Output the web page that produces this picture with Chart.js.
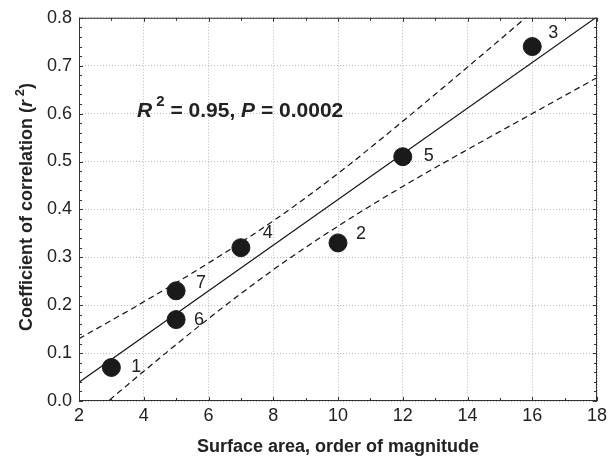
<!DOCTYPE html>
<html>
<head>
<meta charset="utf-8">
<script src="https://cdn.jsdelivr.net/npm/chart.js@4/dist/chart.umd.min.js"></script>
<style>
  html, body { margin: 0; padding: 0; background: #fff; }
  #wrap { width: 613px; height: 459px; }
</style>
</head>
<body>
<div id="wrap"><canvas id="chart"></canvas></div>
<script>
// observed points (surface area, r^2) and their numbers
const surfaceArea = [3, 10, 16, 7, 12, 5, 5];
const correlation = [0.07, 0.33, 0.74, 0.32, 0.51, 0.17, 0.23];
const pointLabels = ["1", "2", "3", "4", "5", "6", "7"];

// regression line, read at both ends of the axis
const fitX = [2, 18];
const fitY = [0.039, 0.802];

// confidence band
const bandX = [2, 4, 6, 8, 10, 12, 14, 16, 18];
const bandUpper = [0.130, 0.207, 0.288, 0.376, 0.475, 0.584, 0.697, 0.812, 0.929];
const bandLower = [-0.052, 0.062, 0.172, 0.274, 0.365, 0.448, 0.525, 0.600, 0.675];

const xTicks = [2, 4, 6, 8, 10, 12, 14, 16, 18];
const yTicks = [0.0, 0.1, 0.2, 0.3, 0.4, 0.5, 0.6, 0.7, 0.8];

const FONT = "'Liberation Sans', Arial, sans-serif";

function pairs(xs, ys) {
    return xs.map((x, i) => ({ x: x, y: ys[i] }));
}

// label offsets next to each point, in pixels
const labelOffsets = [[25, 0], [23, -9], [21, -14], [27, -15], [26, -1], [23, 0], [25, -8]];

const decorPlugin = {
    id: "decor",
    afterDatasetsDraw(chart) {
        const ctx = chart.ctx;
        const a = chart.chartArea;
        const xs = chart.scales.x, ys = chart.scales.y;
        ctx.save();

        // frame
        ctx.strokeStyle = "#333";
        ctx.lineWidth = 1;
        ctx.strokeRect(a.left + 0.5, a.top + 0.5, a.right - a.left - 1, a.bottom - a.top - 1);

        // inner ticks, major and minor
        ctx.beginPath();
        for (let v = 2; v <= 18; v += 1) {
            const px = Math.round(xs.getPixelForValue(v)) + 0.5;
            const len = v % 2 === 0 ? 4 : 3;
            ctx.moveTo(px, a.bottom); ctx.lineTo(px, a.bottom - len);
            ctx.moveTo(px, a.top); ctx.lineTo(px, a.top + len);
        }
        for (let i = 0; i <= 40; i++) {
            const py = Math.round(ys.getPixelForValue(i * 0.02)) + 0.5;
            const len = i % 5 === 0 ? 4 : 3;
            ctx.moveTo(a.left, py); ctx.lineTo(a.left + len, py);
            ctx.moveTo(a.right, py); ctx.lineTo(a.right - len, py);
        }
        ctx.stroke();

        // point numbers
        ctx.fillStyle = "#222";
        ctx.font = "18px " + FONT;
        ctx.textAlign = "center";
        ctx.textBaseline = "middle";
        pointLabels.forEach((lab, i) => {
            const px = xs.getPixelForValue(surfaceArea[i]);
            const py = ys.getPixelForValue(correlation[i]);
            ctx.fillText(lab, px + labelOffsets[i][0], py + labelOffsets[i][1]);
        });

        // statistics text
        ctx.textAlign = "left";
        ctx.textBaseline = "alphabetic";
        let tx = xs.getPixelForValue(3.79);
        const ty = ys.getPixelForValue(0.592);
        const parts = [
            ["italic bold 21px ", "R", 0],
            ["bold 15px ", " 2", -11],
            ["bold 21px ", " = 0.95, ", 0],
            ["italic bold 21px ", "P", 0],
            ["bold 21px ", " = 0.0002", 0]
        ];
        parts.forEach(p => {
            ctx.font = p[0] + FONT;
            ctx.fillText(p[1], tx, ty + p[2]);
            tx += ctx.measureText(p[1]).width;
        });

        // x axis title
        ctx.font = "bold 18px " + FONT;
        ctx.textAlign = "center";
        ctx.fillText("Surface area, order of magnitude", (a.left + a.right) / 2, 452);

        // y axis title, rotated
        ctx.translate(32, 207);
        ctx.rotate(-Math.PI / 2);
        const yParts = [
            ["bold 18px ", "Coefficient of correlation (", 0],
            ["italic bold 18px ", "r", 0],
            ["bold 13px ", " 2", -8],
            ["bold 18px ", ")", 0]
        ];
        let total = 0;
        yParts.forEach(p => { ctx.font = p[0] + FONT; total += ctx.measureText(p[1]).width; });
        let yx = -total / 2;
        ctx.textAlign = "left";
        yParts.forEach(p => {
            ctx.font = p[0] + FONT;
            ctx.fillText(p[1], yx, p[2]);
            yx += ctx.measureText(p[1]).width;
        });
        ctx.restore();
    }
};

new Chart(document.getElementById("chart"), {
    type: "scatter",
    data: {
        datasets: [
            {
                label: "points",
                data: pairs(surfaceArea, correlation),
                backgroundColor: "#1a1a1a",
                borderColor: "#1a1a1a",
                pointRadius: 9,
                pointHoverRadius: 9,
                showLine: false
            },
            {
                label: "fit",
                data: pairs(fitX, fitY),
                borderColor: "#111",
                borderWidth: 1.2,
                pointRadius: 0,
                showLine: true
            },
            {
                label: "upper",
                data: pairs(bandX, bandUpper),
                borderColor: "#111",
                borderWidth: 1.2,
                borderDash: [6, 4],
                pointRadius: 0,
                showLine: true,
                cubicInterpolationMode: "monotone"
            },
            {
                label: "lower",
                data: pairs(bandX, bandLower),
                borderColor: "#111",
                borderWidth: 1.2,
                borderDash: [6, 4],
                pointRadius: 0,
                showLine: true,
                cubicInterpolationMode: "monotone"
            }
        ]
    },
    options: {
        responsive: true,
        maintainAspectRatio: false,
        animation: false,
        layout: { padding: { left: 0, top: 16, right: 16, bottom: 0 } },
        plugins: {
            legend: { display: false },
            tooltip: { enabled: false }
        },
        scales: {
            x: {
                type: "linear",
                min: 2,
                max: 18,
                afterFit: s => { s.height = 58; },
                afterBuildTicks: s => { s.ticks = xTicks.map(v => ({ value: v })); },
                ticks: {
                    font: { family: FONT, size: 18 },
                    color: "#222",
                    padding: 4,
                    maxRotation: 0
                },
                grid: { color: "#bbb", drawTicks: false, lineWidth: 1 },
                border: { display: false, dash: [1, 2] }
            },
            y: {
                type: "linear",
                min: 0,
                max: 0.8,
                afterFit: s => { s.width = 79; },
                afterBuildTicks: s => { s.ticks = yTicks.map(v => ({ value: v })); },
                ticks: {
                    font: { family: FONT, size: 18 },
                    color: "#222",
                    padding: 7,
                    callback: v => Number(v).toFixed(1)
                },
                grid: { color: "#bbb", drawTicks: false, lineWidth: 1 },
                border: { display: false, dash: [1, 2] }
            }
        }
    },
    plugins: [decorPlugin]
});
</script>
</body>
</html>
